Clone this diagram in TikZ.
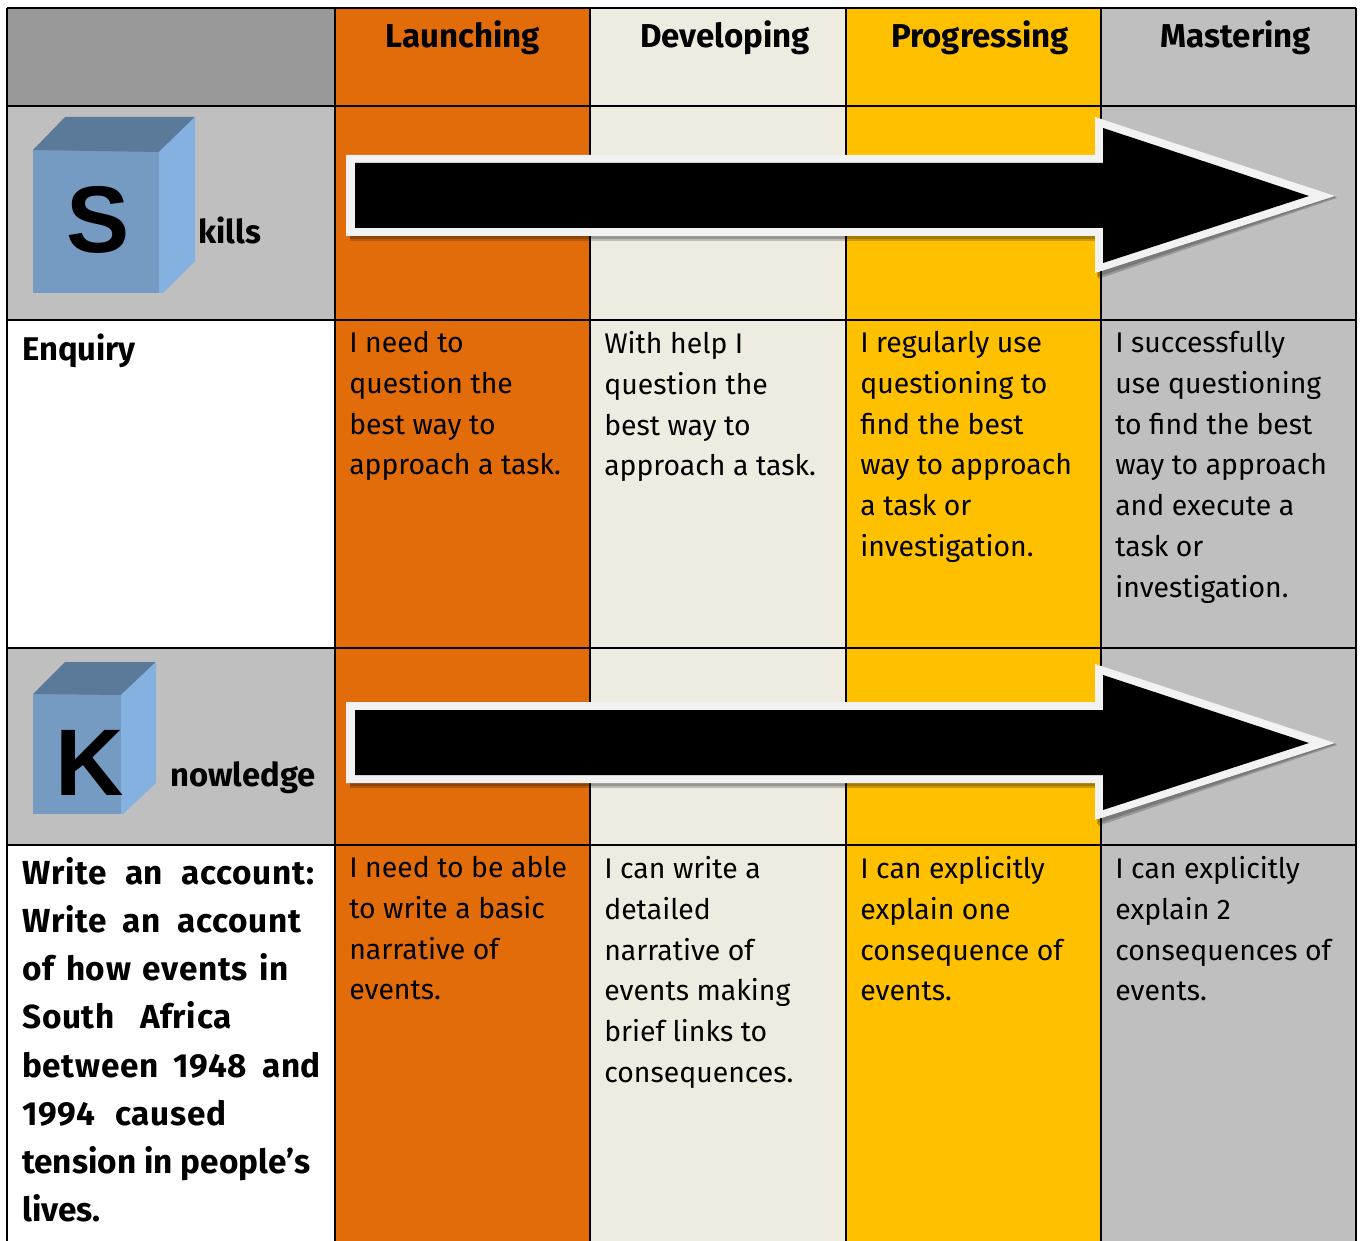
\documentclass[tikz,border=0pt]{standalone}
\usepackage{fontspec}
\setmainfont{Fira Sans}
\newfontfamily\arialf{Liberation Sans}
\definecolor{hdgray}{HTML}{999999}
\definecolor{cellgray}{HTML}{BFBFBF}
\definecolor{cellorange}{HTML}{E36C0A}
\definecolor{cellcream}{HTML}{EEECE1}
\definecolor{cellamber}{HTML}{FFC000}
\definecolor{cubefront}{HTML}{759BC3}
\definecolor{cubetop}{HTML}{5B7A9A}
\definecolor{cubeside}{HTML}{84B1DF}
\definecolor{arrowedge}{HTML}{F2F2F2}
\newcommand{\sline}[2]{\makebox[#1pt][s]{\addfontfeature{LetterSpace=2}#2}}
\tikzset{
  x=0.75pt,y=-0.75pt,
  gridline/.style={black,line width=1.5pt},
  bodytext/.style={anchor=north west,inner sep=0pt,align=left,font=\fontsize{21.3}{30.6}\selectfont},
  headtext/.style={anchor=base,inner sep=0pt,font=\fontsize{24.8}{30}\selectfont\bfseries},
  sidetext/.style={anchor=base west,inner sep=0pt,font=\fontsize{24.6}{30}\selectfont\bfseries},
  boldtext/.style={anchor=north west,inner sep=0pt,align=left,font=\fontsize{25}{36.15}\selectfont\bfseries},
  cubeletter/.style={anchor=base,inner sep=0pt,font=\fontsize{71}{71}\selectfont\arialf\bfseries},
  arrowshadow/.style={fill=black,fill opacity=0.2},
  arrowrim/.style={fill=arrowedge},
  arrowcore/.style={fill=black}
}
\newcommand{\bigarrow}[1]{%
  \begin{scope}[shift={(0,#1)}]
    \fill[arrowshadow] (350,241)--(1098,241)--(1098,279)--(1337,198)--(1334,196)--(1095,273)--(1095,236)--(350,236)--cycle;
    \fill[arrowshadow] (350,239)--(1097,239)--(1097,277)--(1336,197)--(1334,196)--(1095,273)--(1095,236)--(350,236)--cycle;
    \fill[arrowrim] (346,155)--(1095,155)--(1095,117)--(1335,196)--(1095,273)--(1095,236)--(346,236)--cycle;
    \fill[arrowcore] (355,163)--(1103,163)--(1103,128)--(1309,196)--(1103,263)--(1103,228)--(355,228)--cycle;
  \end{scope}}
\begin{document}
\begin{tikzpicture}
\useasboundingbox (0,0) rectangle (1360,1241);
\fill[white] (0,0) rectangle (1360,1241);
\begin{scope}
\clip (0,0) rectangle (1360,1241);
% cells
\fill[hdgray] (7,8) rectangle (335,106);
\fill[cellgray] (7,106) rectangle (335,320);
\fill[cellgray] (7,648) rectangle (335,845);
\fill[cellorange] (335,8) rectangle (590,1241);
\fill[cellcream] (590,8) rectangle (846,1241);
\fill[cellamber] (846,8) rectangle (1101,1241);
\fill[cellgray] (1101,8) rectangle (1356,1241);
% grid
\foreach \gx in {7,335,590,846,1101,1356} \draw[gridline] (\gx,8) -- (\gx,1241);
\foreach \gy in {8,106,320,648,845} \draw[gridline] (7,\gy) -- (1356,\gy);
\bigarrow{0}
\bigarrow{547}
% cubes
\fill[cubefront] (33,150) rectangle (163,293);
\fill[cubetop] (33,150) -- (65,117) -- (195,117) -- (159,152) -- cycle;
\fill[cubeside] (159,152) -- (195,117) -- (195,261) -- (163,293) -- (159,293) -- cycle;
\fill[cubefront] (33,694) rectangle (123,814);
\fill[cubetop] (33,694) -- (65,662) -- (156,662) -- (121,695) -- cycle;
\fill[cubeside] (121,695) -- (156,662) -- (156,783) -- (123,814) -- (121,814) -- cycle;
\node[cubeletter] (letterS) at (98,253) {S};
\node[cubeletter] (letterK) at (90,795) {K};
\node[sidetext] (kills) at (198,244) {kills};
\node[sidetext] (nowledge) at (170,786) {nowledge};
% headers
\node[headtext] (launching) at (463,48) {Launching};
\node[headtext] (developing) at (725,48) {Developing};
\node[headtext] (progressing) at (980,48) {Progressing};
\node[headtext] (mastering) at (1236,48) {Mastering};
% row 1
\node[sidetext] (enquiry) at (22,360) {Enquiry};
\node[bodytext] (e1) at (349,331) {I need to\\question the\\best way to\\approach a task.};
\node[bodytext] (e2) at (604,331) {With help I\\question the\\best way to\\approach a task.};
\node[bodytext] (e3) at (860,331) {I regularly use\\questioning to\\find the best\\way to approach\\a task or\\investigation.};
\node[bodytext] (e4) at (1115,331) {I successfully\\use questioning\\to find the best\\way to approach\\and execute a\\task or\\investigation.};
% row 2
\node[boldtext] (account) at (22,857) {\sline{219}{Write an account:}\\\sline{209}{Write an account}\\\sline{200}{of how events in}\\\sline{157}{South Africa}\\\sline{224}{between 1948 and}\\\sline{153}{1994 caused}\\tension in people’s\\lives.};
\node[bodytext] (w1) at (349,856) {I need to be able\\to write a basic\\narrative of\\events.};
\node[bodytext] (w2) at (604,856) {I can write a\\detailed\\narrative of\\events making\\brief links to\\consequences.};
\node[bodytext] (w3) at (860,856) {I can explicitly\\explain one\\consequence of\\events.};
\node[bodytext] (w4) at (1115,856) {I can explicitly\\explain 2\\consequences of\\events.};
\end{scope}
\end{tikzpicture}
\end{document}
